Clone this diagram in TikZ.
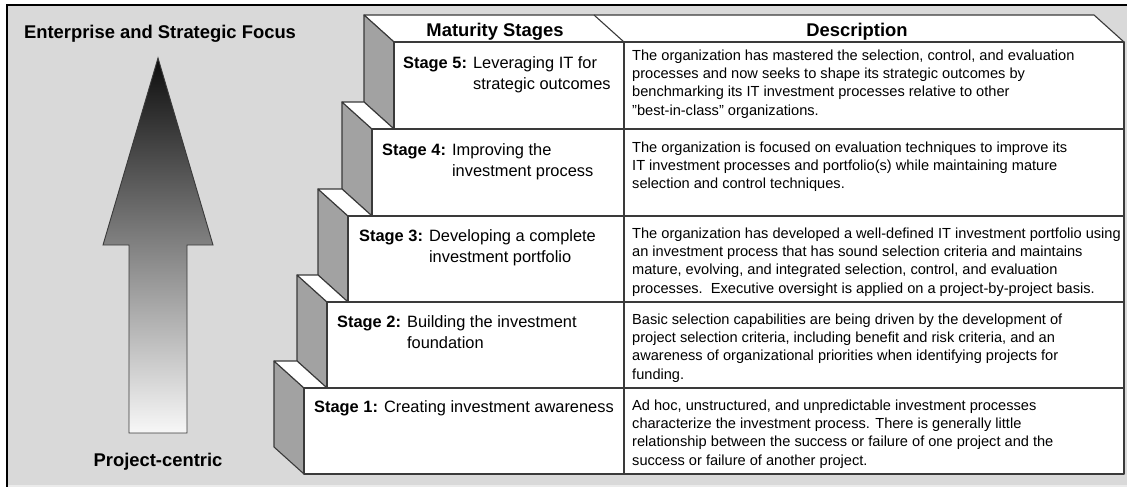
\documentclass[tikz,border=0pt]{standalone}
\usepackage{fontspec}
\setmainfont{Liberation Sans}
\definecolor{bg}{HTML}{D9D9D9}
\definecolor{side}{HTML}{A2A2A2}
\definecolor{ln}{HTML}{3A3A3A}
\newcommand{\rows}[1]{\begin{tabular}[t]{@{}l@{}}#1\end{tabular}}
\begin{document}
\begin{tikzpicture}[x=1pt,y=-1pt,
  bigbold/.style={font=\fontsize{18.4}{22}\selectfont\bfseries, inner sep=0pt, anchor=base},
  stagelbl/.style={font=\fontsize{16.4}{21.5}\selectfont, inner sep=0pt, anchor=base west},
  desc/.style={font=\fontsize{14.6}{18.4}\selectfont, inner sep=0pt, anchor=base west},
  face/.style={fill=white, draw=ln, line width=1.1pt, line join=round},
  sidepanel/.style={fill=side, draw=ln, line width=1.1pt, line join=round}]
\useasboundingbox (0,0) rectangle (1127,487);
% background frame
\fill[white] (0,0) rectangle (1127,487);
\fill[bg] (7,5) rectangle (1127,487);
\fill[black!8] (7,485) rectangle (1127,487);
\draw[black, line width=1.6pt] (7,487) -- (7,5) -- (1127,5);
% arrow
\path[draw=ln, line width=0.9pt, top color=black!95, middle color=black!57, bottom color=white!97!black]
  (158,58) -- (213,245) -- (187,245) -- (187,433) -- (129,433) -- (129,245) -- (103,245) -- cycle;
\node[bigbold] (top) at (160,39) {Enterprise and Strategic Focus};
\node[bigbold] (bottom) at (158,466) {Project-centric};
% header top face
\path[face] (364,15) -- (1094,15) -- (1124,42) -- (394,42) -- cycle;
\draw[ln, line width=1.1pt] (594,15) -- (624,42);
\node[bigbold] (hms) at (495,37) {Maturity Stages};
\node[bigbold] (hdesc) at (857,37) {Description};
% steps: front x, top y, bottom y, next front x
\foreach \fx/\ty/\by/\nx in {394/42/129/0, 372/129/216/394, 348/216/302/372, 327/302/388/348, 304/388/474/327}{
  \path[sidepanel] (\fx-30,\ty-27) -- (\fx,\ty) -- (\fx,\by) -- (\fx-30,\by-27) -- cycle;
  \ifnum\nx>0
    \path[face] (\fx-30,\ty-27) -- (\fx,\ty) -- (\nx,\ty) -- (\nx-30,\ty-27) -- cycle;
  \fi
  \path[face] (\fx,\ty) rectangle (1124,\by);
  \draw[ln, line width=1.1pt] (624,\ty) -- (624,\by);
}
% stage labels
\node[stagelbl] (s5) at (403,68) {\textbf{Stage 5:} \rows{Leveraging IT for\\strategic outcomes}};
\node[stagelbl] (s4) at (382,155) {\textbf{Stage 4:} \rows{Improving the\\investment process}};
\node[stagelbl] (s3) at (359,241) {\textbf{Stage 3:} \rows{Developing a complete\\investment portfolio}};
\node[stagelbl] (s2) at (337,327) {\textbf{Stage 2:} \rows{Building the investment\\foundation}};
\node[stagelbl] (s1) at (314,412) {\textbf{Stage 1:} Creating investment awareness};
% descriptions
\node[desc] (d5) at (632,60) {\rows{The organization has mastered the selection, control, and evaluation\\processes and now seeks to shape its strategic outcomes by\\benchmarking its IT investment processes relative to other\\"best-in-class" organizations.}};
\node[desc] (d4) at (632,152) {\rows{The organization is focused on evaluation techniques to improve its\\IT investment processes and portfolio(s) while maintaining mature\\selection and control techniques.}};
\node[desc] (d3) at (632,238) {\rows{The organization has developed a well-defined IT investment portfolio using\\an investment process that has sound selection criteria and maintains\\mature, evolving, and integrated selection, control, and evaluation\\processes.\ \ Executive oversight is applied on a project-by-project basis.}};
\node[desc] (d2) at (632,324) {\rows{Basic selection capabilities are being driven by the development of\\project selection criteria, including benefit and risk criteria, and an\\awareness of organizational priorities when identifying projects for\\funding.}};
\node[desc] (d1) at (632,410) {\rows{Ad hoc, unstructured, and unpredictable investment processes\\characterize the investment process. There is generally little\\relationship between the success or failure of one project and the\\success or failure of another project.}};
\end{tikzpicture}
\end{document}
